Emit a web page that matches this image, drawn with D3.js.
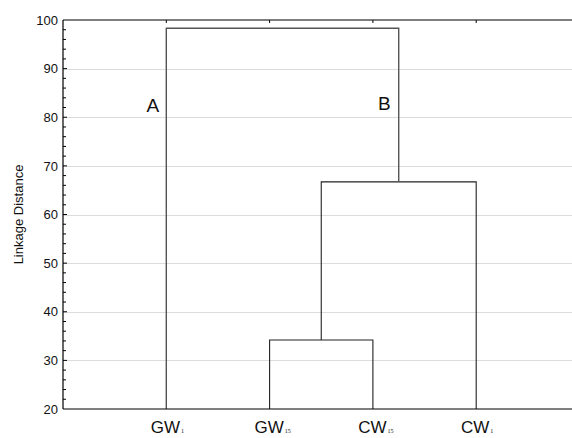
<!DOCTYPE html>
<html>
<head>
<meta charset="utf-8">
<script src="https://cdn.jsdelivr.net/npm/d3@7"></script>
<style>
  body { margin: 0; background: #fff; }
  svg { display: block; font-family: Arial, "Liberation Sans", sans-serif; }
</style>
</head>
<body>
<svg id="chart" width="572" height="438"></svg>
<script>
// leaves in display order
const leafNames = ["GW1", "GW15", "CW15", "CW1"];
const leafMain = ["GW", "GW", "CW", "CW"];
const leafSub = ["1", "15", "15", "1"];

// merges (like a linkage table): left child, right child, linkage distance
const mergeNames = ["C1", "C2", "C3"];
const mergeLeft = ["GW15", "C1", "GW1"];
const mergeRight = ["CW15", "CW1", "C2"];
const mergeHeight = [34.2, 66.7, 98.3];

const yTicks = [20, 30, 40, 50, 60, 70, 80, 90, 100];
const clusterLabels = ["A", "B"];

const svgWidth = 572, svgHeight = 438;
const margin = {top: 20, left: 63, bottom: 409};

const svg = d3.select("#chart");

const x = d3.scaleLinear().domain([0, 5]).range([margin.left, 579.5]);
const y = d3.scaleLinear().domain([20, 100]).range([margin.bottom, margin.top]);

// gridlines
svg.append("g")
    .selectAll("line")
    .data(yTicks.filter(d => d > 20 && d < 100))
    .enter()
    .append("line")
    .attr("x1", margin.left)
    .attr("x2", svgWidth)
    .attr("y1", d => Math.round(y(d)) + 0.5)
    .attr("y2", d => Math.round(y(d)) + 0.5)
    .attr("stroke", "#dcdcdc")
    .attr("stroke-width", 1);

// node positions
const pos = {};
leafNames.forEach((n, i) => { pos[n] = {x: x(i + 1), h: 20}; });
mergeNames.forEach((n, i) => {
    const l = pos[mergeLeft[i]], r = pos[mergeRight[i]];
    pos[n] = {x: (l.x + r.x) / 2, h: mergeHeight[i]};
});

// dendrogram links
const links = svg.append("g");
mergeNames.forEach((n, i) => {
    const l = pos[mergeLeft[i]], r = pos[mergeRight[i]];
    const yy = y(mergeHeight[i]);
    const path = d3.path();
    path.moveTo(l.x, y(l.h));
    path.lineTo(l.x, yy);
    path.lineTo(r.x, yy);
    path.lineTo(r.x, y(r.h));
    links.append("path")
        .attr("d", path.toString())
        .attr("fill", "none")
        .attr("stroke", i == 2 ? "#555" : "#222")
        .attr("stroke-width", i == 2 ? 1.4 : 1.1);
});

// frame: left, top, bottom
const frame = svg.append("g").attr("stroke", "#000").attr("stroke-width", 1.2);
frame.append("line").attr("x1", margin.left).attr("x2", margin.left)
    .attr("y1", margin.top).attr("y2", margin.bottom);
frame.append("line").attr("x1", margin.left).attr("x2", svgWidth)
    .attr("y1", margin.top).attr("y2", margin.top);
frame.append("line").attr("x1", margin.left).attr("x2", svgWidth)
    .attr("y1", margin.bottom).attr("y2", margin.bottom);

// y axis
const yAxis = d3.axisLeft(y)
    .tickValues(yTicks)
    .tickSize(0)
    .tickPadding(5);
const gy = svg.append("g")
    .attr("transform", `translate(${margin.left},0)`)
    .call(yAxis);
gy.select(".domain").remove();
gy.selectAll("text").attr("font-size", 13).attr("fill", "#111")
    .attr("font-family", "Arial, 'Liberation Sans', sans-serif");

// minor ticks (inward)
const minor = d3.range(22, 100, 2);
svg.append("g")
    .selectAll("line")
    .data(minor)
    .enter()
    .append("line")
    .attr("x1", margin.left)
    .attr("x2", d => margin.left + (d % 10 == 0 ? 4 : 3))
    .attr("y1", d => y(d))
    .attr("y2", d => y(d))
    .attr("stroke", "#000")
    .attr("stroke-width", 1);

// top ticks at leaves (inward)
svg.append("g")
    .selectAll("line")
    .data(leafNames)
    .enter()
    .append("line")
    .attr("x1", (d, i) => x(i + 1))
    .attr("x2", (d, i) => x(i + 1))
    .attr("y1", margin.top)
    .attr("y2", margin.top + 3)
    .attr("stroke", "#000");

// leaf labels with subscripts
const lab = svg.append("g")
    .selectAll("text")
    .data(leafNames)
    .enter()
    .append("text")
    .attr("x", (d, i) => x(i + 1) + (leafSub[i].length == 1 ? 1 : 3))
    .attr("y", 433)
    .attr("text-anchor", "middle")
    .attr("font-size", 17)
    .attr("fill", "#111");
lab.append("tspan").text((d, i) => leafMain[i]);
lab.append("tspan")
    .attr("font-size", 6)
    .attr("font-family", "'Liberation Serif', serif")
    .attr("dx", 1)
    .text((d, i) => leafSub[i]);

// cluster labels A and B
svg.append("text")
    .attr("x", pos["GW1"].x - 7)
    .attr("y", 112)
    .attr("text-anchor", "end")
    .attr("font-size", 19)
    .attr("fill", "#111")
    .text(clusterLabels[0]);
svg.append("text")
    .attr("x", pos["C2"].x - 8)
    .attr("y", 110)
    .attr("text-anchor", "end")
    .attr("font-size", 19)
    .attr("fill", "#111")
    .text(clusterLabels[1]);

// y axis title
svg.append("text")
    .attr("transform", `translate(23,${(margin.top + margin.bottom) / 2}) rotate(-90)`)
    .attr("text-anchor", "middle")
    .attr("font-size", 13)
    .attr("fill", "#111")
    .text("Linkage Distance");
</script>
</body>
</html>
